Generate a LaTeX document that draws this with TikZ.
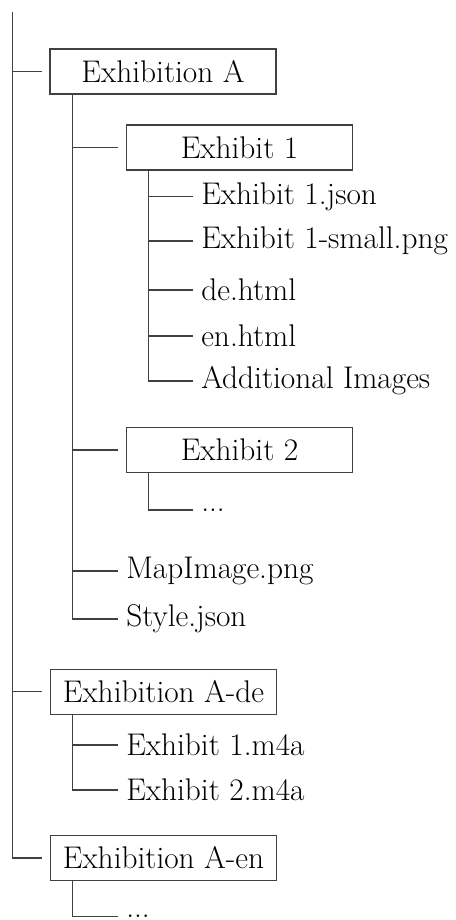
\documentclass[tikz,border=0pt]{standalone}
\usetikzlibrary{calc}
\begin{document}
\begin{tikzpicture}[x=0.75pt,y=-0.75pt,
  txt/.style={font=\fontsize{23.5}{28}\selectfont},
  box/.style={txt,draw=black!75,line width=0.9pt,minimum width=169.5pt,minimum height=33.75pt,inner sep=0pt},
  leaf/.style={txt,anchor=west,inner xsep=6pt,inner ysep=0pt},
  conn/.style={draw=black!75,line width=0.9pt}]
\useasboundingbox (0,0) rectangle (456,920);
\coordinate (root) at (12.7,12);
% boxes
\node[box] (EA) at (163,71.5) {Exhibition A};
\node[box] (E1) at (239.5,147.5) {Exhibit 1};
\node[box] (E2) at (239.5,450) {Exhibit 2};
\node[box] (EAde) at (163.5,691.8) {Exhibition A-de};
\node[box] (EAen) at (163.5,858) {Exhibition A-en};
% leaves of Exhibit 1
\node[leaf] (j1) at (193,196.7) {Exhibit 1.json};
\node[leaf] (j2) at (193,241) {Exhibit 1-small.png};
\node[leaf] (j3) at (193,290) {de.html};
\node[leaf] (j4) at (193,336) {en.html};
\node[leaf] (j5) at (193,381) {Additional Images};
% leaf of Exhibit 2
\node[leaf] (k1) at (193,510) {...};
% leaves of Exhibition A
\node[leaf] (m1) at (118,571) {MapImage.png};
\node[leaf] (m2) at (118,619) {Style.json};
% leaves of Exhibition A-de
\node[leaf] (d1) at (118,745) {Exhibit 1.m4a};
\node[leaf] (d2) at (118,790) {Exhibit 2.m4a};
% leaf of Exhibition A-en
\node[leaf] (n1) at (118,916.5) {...};
% connectors
\draw[conn] (root) |- ($(EA.west)+(-7.5,0)$);
\draw[conn] (root) |- ($(EAde.west)+(-7.5,0)$);
\draw[conn] (root) |- ($(EAen.west)+(-7.5,0)$);
\draw[conn] ($(EA.south west)+(22.7,0)$) |- ($(E1.west)+(-7.5,0)$);
\draw[conn] ($(EA.south west)+(22.7,0)$) |- ($(E2.west)+(-7.5,0)$);
\draw[conn] ($(EA.south west)+(22.7,0)$) |- (m1.west);
\draw[conn] ($(EA.south west)+(22.7,0)$) |- (m2.west);
\draw[conn] ($(E1.south west)+(22.5,0)$) |- (j1.west);
\draw[conn] ($(E1.south west)+(22.5,0)$) |- (j2.west);
\draw[conn] ($(E1.south west)+(22.5,0)$) |- (j3.west);
\draw[conn] ($(E1.south west)+(22.5,0)$) |- (j4.west);
\draw[conn] ($(E1.south west)+(22.5,0)$) |- (j5.west);
\draw[conn] ($(E2.south west)+(22.5,0)$) |- (k1.west);
\draw[conn] ($(EAde.south west)+(22.7,0)$) |- (d1.west);
\draw[conn] ($(EAde.south west)+(22.7,0)$) |- (d2.west);
\draw[conn] ($(EAen.south west)+(22.7,0)$) |- (n1.west);
\end{tikzpicture}
\end{document}
